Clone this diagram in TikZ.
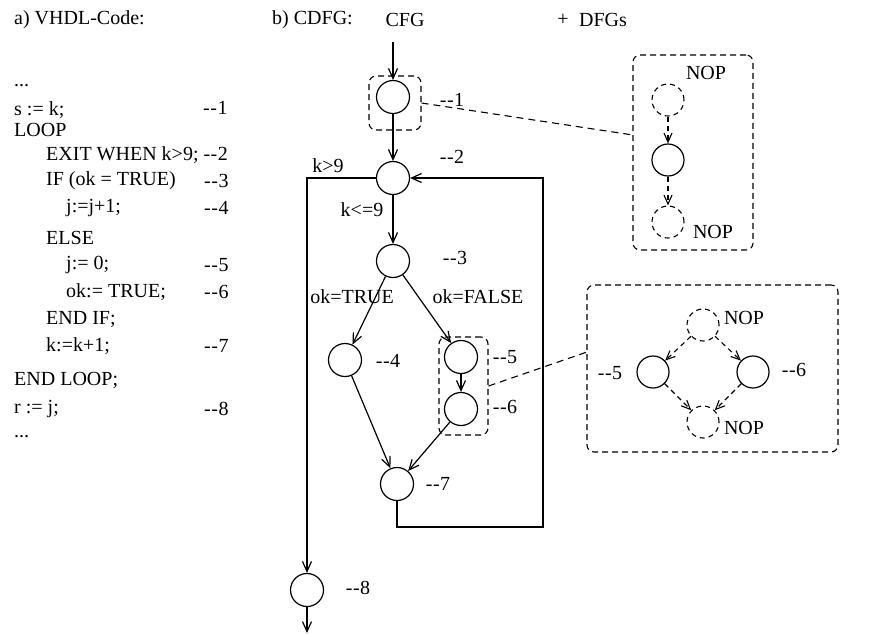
\documentclass[tikz,border=0pt]{standalone}
\usepackage{fontspec}
\setmainfont{Liberation Serif}
\usetikzlibrary{arrows.meta}
\newcommand\dcm[1]{-\kern0.5pt-\kern0.5pt#1}
\begin{document}
\begin{tikzpicture}[x=1pt,y=-1pt,
  every node/.style={font=\fontsize{20}{23}\selectfont, inner sep=0pt},
  txt/.style={anchor=west},
  cnode/.style={circle, draw, line width=1.2pt, minimum size=33pt, inner sep=0pt},
  dnode/.style={circle, draw, line width=1.1pt, dash pattern=on 5pt off 4pt, minimum size=32pt, inner sep=0pt},
  snode/.style={circle, draw, line width=1.2pt, minimum size=32pt, inner sep=0pt},
  dbox/.style={draw, line width=1.1pt, dash pattern=on 6pt off 4pt, rounded corners=7pt, inner sep=0pt},
  arr/.style={line width=1.2pt, -{Straight Barb[length=10pt,width=9pt,line width=1.2pt]}},
  darr/.style={line width=1.1pt, dash pattern=on 5pt off 4pt, -{Straight Barb[length=9pt,width=8pt,line width=1.1pt]}},
  dline/.style={line width=1.1pt, dash pattern=on 7pt off 5pt}]
\useasboundingbox (0,0) rectangle (875,633);
% ---------- VHDL code ----------
\node[txt] (ha) at (14,20) {a) VHDL-Code:};
\node[anchor=base west] (c0) at (14,86) {...};
\node[txt] (c1) at (14,110) {s := k;};
\node[txt] (c1c) at (203,108) {\dcm1};
\node[txt] (c2) at (14,130) {LOOP};
\node[txt] (c3) at (46,155) {EXIT WHEN k>9; \dcm2};
\node[txt] (c4) at (46,181) {IF (ok = TRUE)};
\node[txt] (c4c) at (204,181) {\dcm3};
\node[txt] (c5) at (66,208) {j:=j+1;};
\node[txt] (c5c) at (204,208) {\dcm4};
\node[txt] (c6) at (46,238) {ELSE};
\node[txt] (c7) at (66,265) {j:= 0;};
\node[txt] (c7c) at (204,265) {\dcm5};
\node[txt] (c8) at (66,292) {ok:= TRUE;};
\node[txt] (c8c) at (204,292) {\dcm6};
\node[txt] (c9) at (46,319) {END IF;};
\node[txt] (c10) at (46,346) {k:=k+1;};
\node[txt] (c10c) at (204,346) {\dcm7};
\node[txt] (c11) at (14,380) {END LOOP;};
\node[txt] (c12) at (14,409) {r := j;};
\node[txt] (c12c) at (204,409) {\dcm8};
\node[anchor=base west] (c13) at (14,437) {...};
% ---------- headers ----------
\node[txt] (hb) at (272,20) {b) CDFG:};
\node (hcfg) at (405,20) {CFG};
\node (hplus) at (563,20) {+};
\node (hdfg) at (603,20) {DFGs};
% ---------- CFG ----------
\coordinate (start) at (393,42);
\node[cnode] (n1) at (393,97) {};
\node[dbox, minimum width=52pt, minimum height=54pt] (b1) at (395,103) {};
\node (l1) at (452,100) {\dcm1};
\node[cnode] (n2) at (393,178) {};
\node (l2) at (452,157) {\dcm2};
\node (lk9) at (328,166) {k>9};
\node (lk9b) at (362,210) {k<=9};
\node[cnode] (n3) at (393,261) {};
\node (l3) at (455,258) {\dcm3};
\node (lt) at (352,297) {ok=TRUE};
\node (lf) at (478,297) {ok=FALSE};
\node[cnode] (n4) at (345,360) {};
\node (l4) at (388,361) {\dcm4};
\node[cnode] (n5) at (461,357) {};
\node[cnode] (n6) at (461,409) {};
\node[dbox, minimum width=49pt, minimum height=98pt] (b56) at (463.5,386) {};
\node (l5) at (505,357) {\dcm5};
\node (l6) at (505,407) {\dcm6};
\node[cnode] (n7) at (397,484) {};
\node (l7) at (438,484) {\dcm7};
\node[cnode] (n8) at (307,590) {};
\node (l8) at (358,588) {\dcm8};
\coordinate (fin) at (307,633);
\coordinate (lpa) at (397,527);
\coordinate (lpb) at (543,527);
\coordinate (lpc) at (543,178);
\draw[arr] (start) -- (n1);
\draw[arr] (n1) -- (n2);
\draw[arr] (n2) -- (n3);
\draw[arr] (n3) -- (n4);
\draw[arr] (n3) -- (n5);
\draw[arr] (n5) -- (n6);
\draw[arr] (n4) -- (n7);
\draw[arr] (n6) -- (n7);
\draw[arr] (n7.south) -- (lpa) -- (lpb) -- (lpc) -- (n2.east);
\draw[arr] (n2.west) -| (n8.north);
\draw[arr] (n8) -- (fin);
% ---------- DFG 1 ----------
\node[dbox, minimum width=120pt, minimum height=195pt] (d1) at (693,152.5) {};
\node[dnode] (t1) at (668,100) {};
\node[snode] (m1) at (668,160) {};
\node[dnode] (u1) at (668,222) {};
\node (nop1) at (706,73) {NOP};
\node (nop2) at (713,232) {NOP};
\draw[darr] (t1) -- (m1);
\draw[darr] (m1) -- (u1);
\coordinate (d1in) at (633,135);
\draw[dline] (b1.east) -- (d1in);
% ---------- DFG 2 ----------
\node[dbox, minimum width=251pt, minimum height=167pt] (d2) at (712.5,368.5) {};
\node[dnode] (t2) at (703,325) {};
\node[snode] (a2) at (653,372) {};
\node[snode] (r2) at (753,372) {};
\node[dnode] (u2) at (703,422) {};
\node (nop3) at (744,318) {NOP};
\node (nop4) at (744,428) {NOP};
\node (m5) at (610,373) {\dcm5};
\node (m6) at (794,370) {\dcm6};
\draw[darr] (t2) -- (a2);
\draw[darr] (t2) -- (r2);
\draw[darr] (a2) -- (u2);
\draw[darr] (r2) -- (u2);
\coordinate (d2in) at (587,352);
\draw[dline] (b56.east) -- (d2in);
\end{tikzpicture}
\end{document}
